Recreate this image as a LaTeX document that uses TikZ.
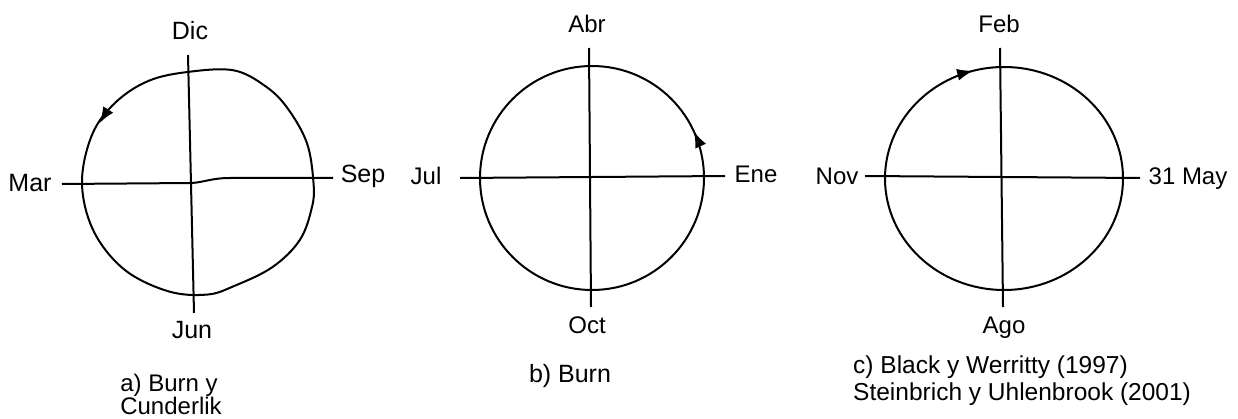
\documentclass[tikz,border=0pt]{standalone}
\usepackage{fontspec}
\setmainfont{Liberation Sans}
\usetikzlibrary{arrows.meta,decorations.markings}
\begin{document}
\begin{tikzpicture}[x=1pt,y=1pt,
  axisline/.style={line width=2pt},
  ring/.style={line width=2pt},
  lab/.style={font=\fontsize{24}{24}\selectfont, inner sep=0pt, anchor=base},
  laba/.style={font=\fontsize{25}{25}\selectfont, inner sep=0pt, anchor=base},
  capa/.style={font=\fontsize{24}{24}\selectfont, inner sep=0pt, anchor=base},
  capc/.style={font=\fontsize{24.5}{24.5}\selectfont, inner sep=0pt, anchor=base west}]
\useasboundingbox (0,0) rectangle (1238,418);

% ---------- a) ----------
\coordinate (aT) at (188,363);
\coordinate (aB) at (194,105);
\coordinate (aL) at (62,234);
\coordinate (aC) at (192,235);
\coordinate (aK) at (230,240);
\coordinate (aR) at (333,240);
\coordinate (aA1) at (103.2,300.6);
\coordinate (aA2) at (99.6,294.9);
\draw[ring]
  plot[smooth cycle, tension=0.6] coordinates {(313.5,235) (306.9,275.0) (287.0,310.5) (265.0,332.1) (233.6,347.7) (189.2,346.2) (149.2,337.4) (116.0,316.0) (92.3,283.8) (82,235) (93.7,186.8) (124.4,148.4) (168.0,126.8) (206.8,123.4) (234.4,132.1) (272.6,151.0) (299.8,178.0) (311.9,210.6)};
\draw[ring, -{Latex[length=16pt,width=12pt]}] (aA1) -- (aA2);
\draw[axisline] (aT) -- (aB);
\draw[axisline] (aL) -- (aC) .. controls (205,236) and (212,240) .. (aK) -- (aR);
\node[laba] (dic) at (190,378) {Dic};
\node[laba] (mar) at (30,226) {Mar};
\node[laba] (sep) at (363,235) {Sep};
\node[laba] (jun) at (192,80) {Jun};
\node[capa] (capa1) at (169,27) {a) Burn y};
\node[capa] (capa2) at (171,4) {Cunderlik};

% ---------- b) ----------
\coordinate (bO) at (592,240);
\coordinate (bT) at (589,370);
\coordinate (bB) at (591,111);
\coordinate (bL) at (460,240);
\coordinate (bR) at (725,242);
\draw[ring, postaction={decorate},
  decoration={markings, mark=at position 0.068 with {\arrow{Latex[length=16pt,width=12pt]}}}]
  (bO) circle[radius=112];
\draw[axisline] (bT) -- (bB);
\draw[axisline] (bL) -- (bR);
\node[lab] (abr) at (587,385) {Abr};
\node[lab] (jul) at (426,233) {Jul};
\node[lab] (ene) at (756,235) {Ene};
\node[lab] (oct) at (587,85) {Oct};
\node[laba] (capb) at (570,36) {b) Burn};

% ---------- c) ----------
\coordinate (cO) at (1004,239.5);
\coordinate (cT) at (1000,370);
\coordinate (cB) at (1003,111);
\coordinate (cL) at (865,242);
\coordinate (cR) at (1140,240);
\draw[ring, postaction={decorate},
  decoration={markings, mark=at position 0.293 with {\arrowreversed{Latex[length=16pt,width=12pt]}}}]
  (cO) ellipse[x radius=119, y radius=111.5];
\draw[axisline] (cT) -- (cB);
\draw[axisline] (cL) -- (cR);
\node[lab] (feb) at (999,385) {Feb};
\node[lab] (nov) at (837,233) {Nov};
\node[lab] (may) at (1188,233) {31 May};
\node[lab] (ago) at (1004,85) {Ago};
\node[capc] (capc1) at (853,45) {c) Black y Werritty (1997)};
\node[capc] (capc2) at (853,18) {Steinbrich y Uhlenbrook (2001)};
\end{tikzpicture}
\end{document}
